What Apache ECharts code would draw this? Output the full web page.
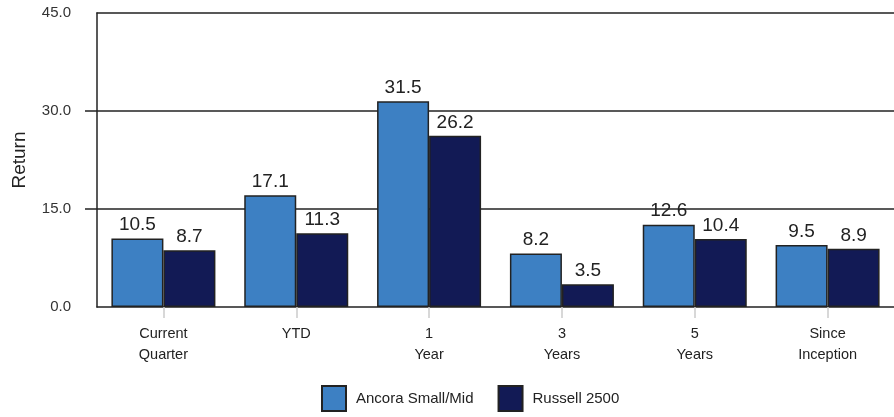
<!DOCTYPE html>
<html><head><meta charset="utf-8">
<script src="https://cdn.jsdelivr.net/npm/echarts@6/dist/echarts.min.js"></script>
<style>html,body{margin:0;padding:0;background:#fff}#c{width:894px;height:417px}</style>
</head><body><div id="c"></div>
<script>
const categories = ['Current\nQuarter', 'YTD', '1\nYear', '3\nYears', '5\nYears', 'Since\nInception'];
const ancora = [10.5, 17.1, 31.5, 8.2, 12.6, 9.5];
const russell = [8.7, 11.3, 26.2, 3.5, 10.4, 8.9];
const seriesNames = ['Ancora Small/Mid', 'Russell 2500'];
const yTicks = { min: 0, max: 45, interval: 15 };
const yTickMarks = [15, 30];

const chart = echarts.init(document.getElementById('c'), null, { renderer: 'canvas' });
const font = 'Liberation Sans, Arial, sans-serif';
const labelCfg = {
  show: true, position: 'top', distance: 4,
  fontSize: 19, color: '#222', fontFamily: font,
  formatter: p => p.value.toFixed(1)
};
chart.setOption({
  animation: false,
  textStyle: { fontFamily: font },
  grid: { left: 97, right: 0, top: 13, bottom: 110 },
  legend: {
    bottom: 0, left: 316, itemWidth: 24, itemHeight: 25, itemGap: 24, icon: 'rect',
    textStyle: { fontSize: 15, color: '#222', fontFamily: font, padding: [0, 0, 0, 5] },
    data: seriesNames
  },
  xAxis: [{
    type: 'category', data: categories,
    axisLine: { show: true, lineStyle: { color: '#222', width: 1.5 } },
    axisTick: { show: true, alignWithLabel: true, length: 11, lineStyle: { color: '#ccc', width: 1.5 } },
    axisLabel: { fontSize: 14.5, color: '#222', lineHeight: 21, margin: 16, fontFamily: font }
  }, {
    type: 'category', data: categories, position: 'top',
    axisLine: { show: true, lineStyle: { color: '#222', width: 1.5 } },
    axisTick: { show: false }, axisLabel: { show: false }
  }],
  yAxis: {
    type: 'value', min: yTicks.min, max: yTicks.max, interval: yTicks.interval,
    name: 'Return', nameLocation: 'middle', nameGap: 68,
    nameTextStyle: { fontSize: 19, color: '#222', fontFamily: font },
    axisLine: { show: true, lineStyle: { color: '#222', width: 1.5 } },
    axisTick: { show: true, length: 12, customValues: yTickMarks, lineStyle: { color: '#222', width: 1.5 } },
    axisLabel: { fontSize: 15, color: '#333', margin: 26, fontFamily: font, formatter: v => v.toFixed(1) },
    splitLine: { show: true, lineStyle: { color: '#222', width: 1.5 } }
  },
  series: [
    { name: seriesNames[0], type: 'bar', data: ancora, barGap: '0%', barCategoryGap: '21.7%',
      itemStyle: { color: '#3d80c3', borderColor: '#222', borderWidth: 1.5 }, label: labelCfg },
    { name: seriesNames[1], type: 'bar', data: russell,
      itemStyle: { color: '#121a55', borderColor: '#222', borderWidth: 1.5 }, label: labelCfg }
  ]
});
</script></body></html>
